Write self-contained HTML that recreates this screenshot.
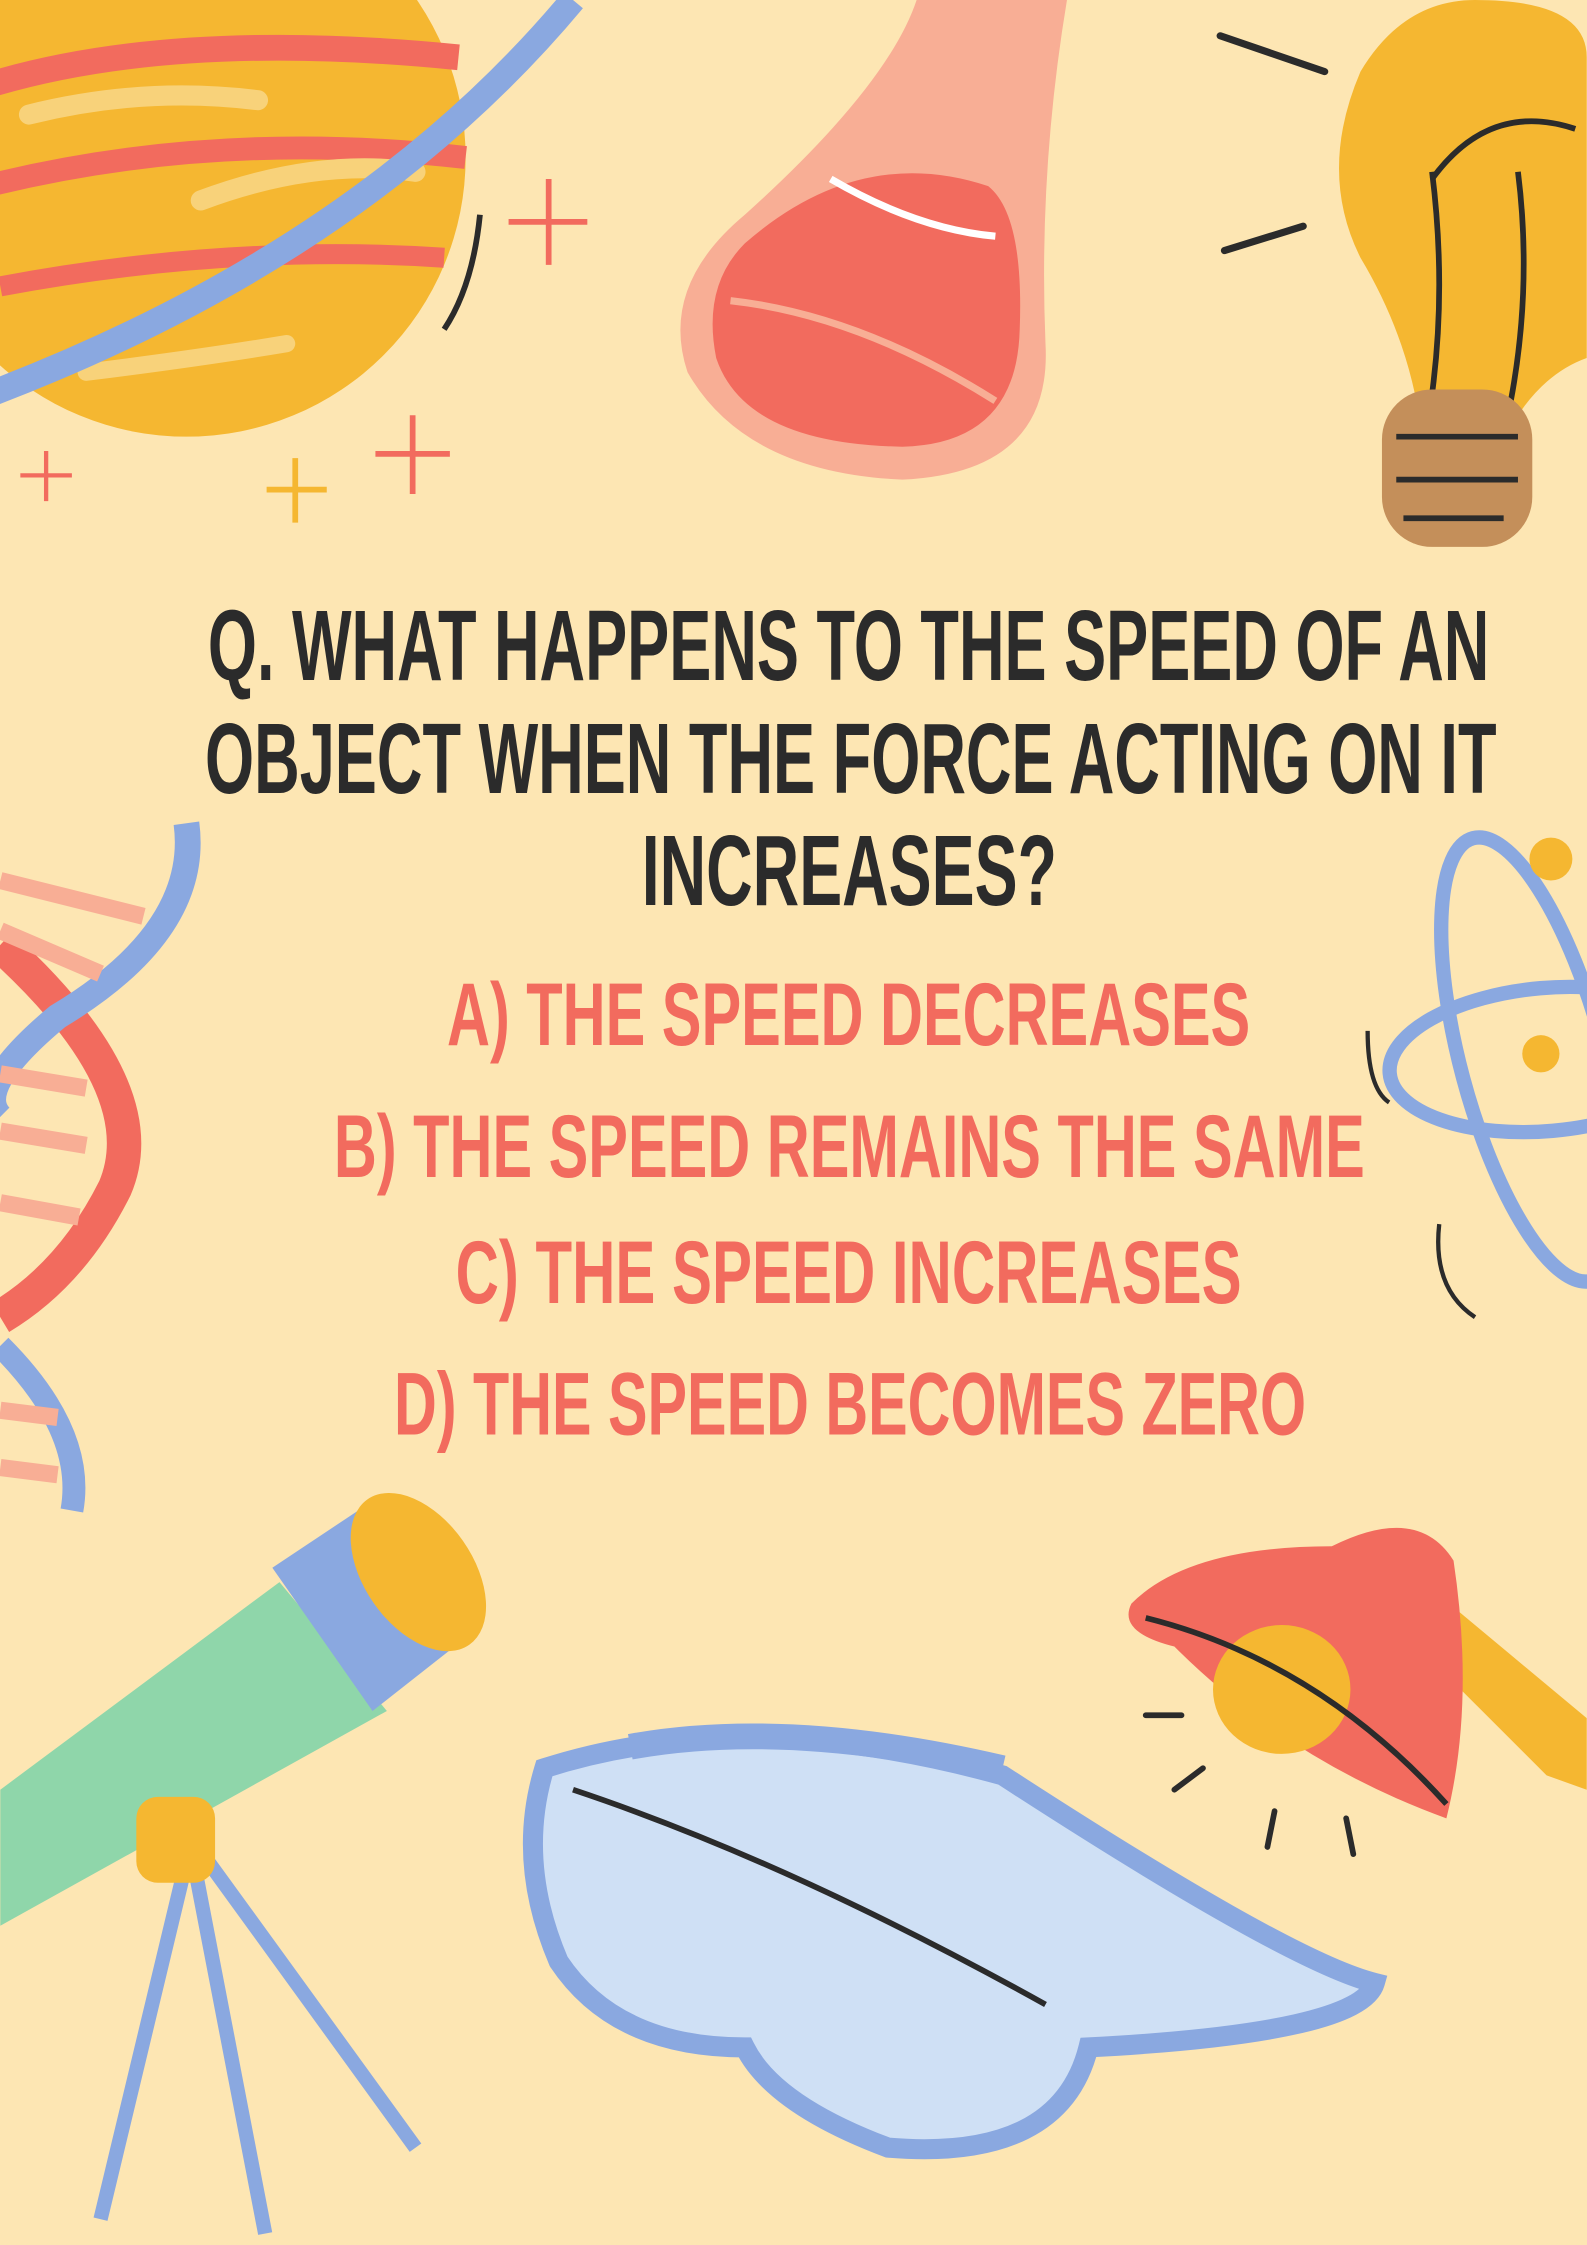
<!DOCTYPE html>
<html><head><meta charset="utf-8"><style>
html,body{margin:0;padding:0;background:#fde6b3;}
svg{display:block}
text{font-family:"Liberation Sans Narrow","Liberation Sans",sans-serif;font-weight:bold;}
</style></head><body>
<svg width="1587" height="2245" viewBox="0 0 1108 1568" xmlns="http://www.w3.org/2000/svg">
<rect width="1108" height="1568" fill="#fde6b3"/>

<g>
<circle cx="130" cy="110" r="195" fill="#f5b731"/>
<path d="M-10 60 Q120 20 320 40" stroke="#f26b5e" stroke-width="18" fill="none"/>
<path d="M-10 130 Q150 90 325 110" stroke="#f26b5e" stroke-width="16" fill="none"/>
<path d="M0 200 Q160 170 310 180" stroke="#f26b5e" stroke-width="14" fill="none"/>
<path d="M20 80 Q100 60 180 70" stroke="#f8d27a" stroke-width="14" fill="none" stroke-linecap="round"/>
<path d="M140 140 Q220 110 290 120" stroke="#f8d27a" stroke-width="14" fill="none" stroke-linecap="round"/>
<path d="M60 260 Q140 250 200 240" stroke="#f8d27a" stroke-width="12" fill="none" stroke-linecap="round"/>
<path d="M-20 280 Q250 180 400 0" stroke="#8aa8e0" stroke-width="18" fill="none"/>
<path d="M335 150 Q330 200 310 230" stroke="#2b2b2b" stroke-width="4" fill="none"/>
<path d="M383 125 V185 M355 155 H410" stroke="#f26b5e" stroke-width="4"/>
<path d="M288 290 V345 M262 317 H314" stroke="#f26b5e" stroke-width="4"/>
<path d="M32 315 V350 M14 332 H50" stroke="#f26b5e" stroke-width="3"/>
<path d="M206 320 V365 M186 342 H228" stroke="#f5b731" stroke-width="4"/>
</g>

<g>
<path d="M640 0 L745 0 Q725 120 730 240 Q735 330 630 335 Q520 330 480 260 Q460 200 520 150 Q620 60 640 0Z" fill="#f8ae95"/>
<path d="M520 170 Q600 100 690 130 Q715 150 712 230 Q710 310 630 312 Q520 310 500 250 Q490 200 520 170Z" fill="#f26b5e"/>
<path d="M580 125 Q640 160 695 165" stroke="#fff" stroke-width="5" fill="none"/>
<path d="M510 210 Q600 220 695 280" stroke="#f8ae95" stroke-width="5" fill="none"/>
</g>

<g>
<path d="M1030 0 Q1108 0 1108 40 L1108 250 Q1080 260 1060 290 L990 285 Q980 230 950 180 Q920 120 950 50 Q980 0 1030 0Z" fill="#f5b731"/>
<path d="M1000 120 Q1010 200 1000 275 M1060 120 Q1070 200 1055 280" stroke="#2b2b2b" stroke-width="4" fill="none"/>
<path d="M1000 125 Q1040 70 1100 90" stroke="#2b2b2b" stroke-width="4" fill="none"/>
<rect x="965" y="272" width="105" height="110" rx="35" fill="#c48f5a"/>
<path d="M975 305 H1060 M975 335 H1060 M980 362 H1050" stroke="#2b2b2b" stroke-width="4"/>
<path d="M852 25 L925 50 M855 175 L910 158" stroke="#2b2b2b" stroke-width="5" stroke-linecap="round"/>
</g>

<g>
<path d="M0 660 Q110 760 80 830 Q50 890 0 920" stroke="#f26b5e" stroke-width="24" fill="none"/>
<path d="M130 575 Q140 650 40 710 Q-20 760 0 780" stroke="#8aa8e0" stroke-width="18" fill="none"/>
<path d="M0 940 Q60 1000 50 1055" stroke="#8aa8e0" stroke-width="16" fill="none"/>
<path d="M0 615 L100 640 M0 650 L70 680 M0 750 L60 760 M0 790 L60 800 M0 840 L55 850 M0 985 L40 990 M0 1025 L40 1030" stroke="#f8ae95" stroke-width="12"/>
</g>

<g>
<ellipse cx="1080" cy="740" rx="110" ry="50" fill="none" stroke="#8aa8e0" stroke-width="10" transform="rotate(-5 1080 740)"/>
<ellipse cx="1070" cy="740" rx="50" ry="160" fill="none" stroke="#8aa8e0" stroke-width="10" transform="rotate(-15 1070 740)"/>
<circle cx="1083" cy="600" r="15" fill="#f5b731"/>
<circle cx="1076" cy="736" r="13" fill="#f5b731"/>
<path d="M955 720 Q955 760 970 770 M1005 855 Q1000 900 1030 920" stroke="#2b2b2b" stroke-width="3" fill="none"/>
</g>

<g>
<polygon points="0,1250 195,1105 270,1195 0,1345" fill="#8fd6aa"/>
<polygon points="190,1095 265,1045 330,1140 260,1195" fill="#8aa8e0"/>
<ellipse cx="292" cy="1098" rx="38" ry="62" fill="#f5b731" transform="rotate(-35 292 1098)"/>
<path d="M130 1300 L70 1550 M135 1300 L185 1560 M145 1300 L290 1500" stroke="#8aa8e0" stroke-width="10"/>
<rect x="95" y="1255" width="55" height="60" rx="15" fill="#f5b731"/>
</g>

<g>
<path d="M380 1235 Q520 1190 700 1240 Q900 1370 960 1385 Q950 1420 760 1430 Q740 1510 620 1500 Q540 1470 520 1430 Q430 1430 390 1370 Q360 1300 380 1235Z" fill="#cfe0f5" stroke="#8aa8e0" stroke-width="14"/>
<path d="M440 1220 Q550 1200 700 1235" stroke="#8aa8e0" stroke-width="18" fill="none"/>
<path d="M400 1250 Q550 1300 730 1400" stroke="#2b2b2b" stroke-width="4" fill="none"/>
</g>

<g>
<path d="M1000 1110 L1108 1200 L1108 1250 L1080 1240 L990 1150Z" fill="#f5b731"/>
<path d="M790 1120 Q830 1080 930 1080 Q990 1050 1015 1090 Q1030 1190 1010 1270 Q900 1230 820 1150 Q780 1140 790 1120Z" fill="#f26b5e"/>
<ellipse cx="895" cy="1180" rx="48" ry="45" fill="#f5b731"/>
<path d="M800 1130 Q920 1160 1010 1260" stroke="#2b2b2b" stroke-width="4" fill="none"/>
<path d="M800 1198 H825 M820 1250 L840 1235 M885 1290 L890 1265 M945 1295 L940 1270" stroke="#2b2b2b" stroke-width="4" stroke-linecap="round"/>
</g>

<g fill="#2b2b2b">
<text x="145" y="475" font-size="70" textLength="895" lengthAdjust="spacingAndGlyphs">Q. WHAT HAPPENS TO THE SPEED OF AN</text>
<text x="143" y="554" font-size="70" textLength="902" lengthAdjust="spacingAndGlyphs">OBJECT WHEN THE FORCE ACTING ON IT</text>
<text x="448" y="632" font-size="70" textLength="290" lengthAdjust="spacingAndGlyphs">INCREASES?</text>
</g>
<g fill="#f26b5e">
<text x="312" y="730" font-size="62" textLength="561" lengthAdjust="spacingAndGlyphs">A) THE SPEED DECREASES</text>
<text x="233" y="822" font-size="62" textLength="720" lengthAdjust="spacingAndGlyphs">B) THE SPEED REMAINS THE SAME</text>
<text x="318" y="910" font-size="62" textLength="549" lengthAdjust="spacingAndGlyphs">C) THE SPEED INCREASES</text>
<text x="275" y="1002" font-size="62" textLength="637" lengthAdjust="spacingAndGlyphs">D) THE SPEED BECOMES ZERO</text>
</g>
</svg>
</body></html>
